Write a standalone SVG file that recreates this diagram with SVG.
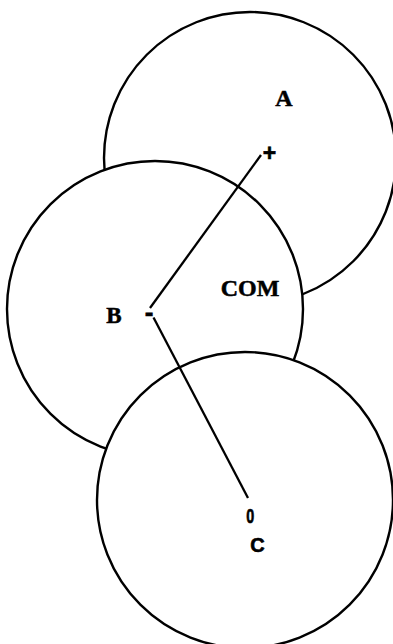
<svg xmlns="http://www.w3.org/2000/svg" width="393" height="644" viewBox="0 0 393 644">
<style>
.c{fill:#fff;stroke:#000;stroke-width:2.4}
.l{stroke:#000;stroke-width:2.3;fill:none}
.s{font-family:"Liberation Serif","Times New Roman",serif;font-weight:bold;fill:#000;stroke:#000;stroke-width:0.5}
.a{font-family:"Liberation Sans",Arial,sans-serif;font-weight:bold;fill:#000;stroke:#000;stroke-width:0.6}
</style>
<rect width="393" height="644" fill="#fff"/>
<g id="nodeA"><circle class="c" cx="250" cy="158" r="146"/></g>
<g id="nodeB"><circle class="c" cx="155" cy="309" r="148"/></g>
<g id="nodeC"><circle class="c" cx="245" cy="500" r="148"/></g>
<g id="connectors">
<line class="l" x1="150" y1="308" x2="261" y2="155"/>
<line class="l" x1="153.5" y1="317.5" x2="248" y2="498"/>
</g>
<g id="labels">
<text class="s" x="284" y="106" font-size="24" text-anchor="middle">A</text>
<text class="a" x="269.5" y="160.5" font-size="23" text-anchor="middle">+</text>
<text class="s" x="250" y="296" font-size="24" text-anchor="middle">COM</text>
<text class="s" x="114" y="323" font-size="23" text-anchor="middle">B</text>
<text class="a" x="149" y="321" font-size="26" text-anchor="middle">-</text>
<text class="a" x="246.3" y="522.5" font-size="19.5" textLength="8" lengthAdjust="spacingAndGlyphs">0</text>
<text class="a" x="257.5" y="552" font-size="20" text-anchor="middle">C</text>
</g>
</svg>
